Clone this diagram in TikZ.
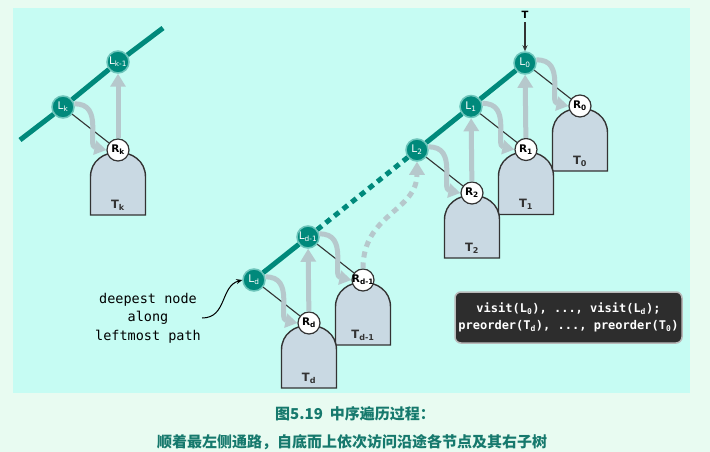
\documentclass[tikz,border=0pt]{standalone}
\usepackage{fontspec}
\setsansfont{DejaVu Sans}
\setmonofont{DejaVu Sans Mono}
\newfontfamily\cjk{Noto Sans CJK SC}
\usetikzlibrary{positioning,arrows.meta,calc}
\definecolor{pagebg}{HTML}{E8FBF1}
\definecolor{panelbg}{HTML}{C6FCF3}
\definecolor{pathteal}{HTML}{00897B}
\definecolor{rimteal}{HTML}{6CC4BA}
\definecolor{hintgray}{HTML}{B6C8CC}
\definecolor{treefill}{HTML}{C9D9E3}
\definecolor{inkdark}{HTML}{333333}
\definecolor{codebg}{HTML}{2D2D2D}
\definecolor{capteal}{HTML}{16796D}
\pgfdeclarelayer{back}
\pgfsetlayers{back,main}
\newcommand\vname[2]{\makebox[0pt]{#1\textsubscript{#2}}}

\tikzset{
  lnode/.style={circle, fill=pathteal, draw=rimteal, line width=1.5pt, minimum size=22pt,
    inner sep=0pt, text=white, font=\sffamily\fontsize{10.5}{10}\selectfont},
  rnode/.style={circle, fill=white, draw=inkdark, line width=1.2pt, minimum size=22pt,
    inner sep=0pt, font=\sffamily\bfseries\fontsize{10.5}{10}\selectfont},
  spine/.style={pathteal, line width=5pt},
  spinedots/.style={spine, dash pattern=on 6pt off 5pt},
  edge/.style={inkdark, line width=1.1pt},
  climb/.style={hintgray, line width=5pt, -{Triangle[length=13pt,width=15pt]}},
  climbdots/.style={climb, dash pattern=on 6pt off 5pt},
  visit/.style={hintgray, line width=5pt, -{Triangle[length=12pt,width=14pt]}},
  treebody/.style={fill=treefill, draw=inkdark, line width=1.4pt},
  subtree/.pic={
    \draw[treebody] (-27.5,65) -- (-27.5,27) .. controls (-27.5,-6) and (27.5,-6) .. (27.5,27)
      -- (27.5,65) -- cycle;
    \node[font=\sffamily\bfseries\fontsize{11.5}{11}\selectfont, text=inkdark] (-lbl) at (0,55) {#1};
  },
  codebox/.style={fill=codebg, draw=gray!55, line width=1.5pt, rounded corners=6pt,
    minimum width=227pt, minimum height=51pt, inner sep=2pt, text=white, align=center,
    font=\ttfamily\bfseries\fontsize{12}{16.5}\selectfont},
}

\begin{document}
\begin{tikzpicture}[x=1pt, y=-1pt]
\useasboundingbox (0,0) rectangle (710,452);

% backdrop and subtrees
\begin{pgfonlayer}{back}
\fill[pagebg] (0,0) rectangle (710,452);
\fill[panelbg] (13,8) rectangle (690,393);
\pic (Tk) at (118,150) {subtree={T\textsubscript{k}}};
\pic (T0) at (580,106) {subtree={T\textsubscript{0}}};
\pic (T1) at (526,149.5) {subtree={T\textsubscript{1}}};
\pic (T2) at (472,193) {subtree={T\textsubscript{2}}};
\pic (Tdm) at (363,280) {subtree={T\textsubscript{d-1}}};
\pic (Td) at (309,323) {subtree={T\textsubscript{d}}};
\end{pgfonlayer}

% leftmost path nodes
\node[lnode] (L0) at (525,63) {\vname{L}{0}};
\node[lnode] (L1) at (471,106.5) {\vname{L}{1}};
\node[lnode] (L2) at (417,150) {\vname{L}{2}};
\node[lnode] (Ldm) at (308,237) {\vname{L}{d-1}};
\node[lnode] (Ld) at (254,280) {\vname{L}{d}};
\node[lnode] (Lk) at (63,107) {\vname{L}{k}};
\node[lnode] (Lkm) at (118,62) {\vname{L}{k-1}};

% right children
\node[rnode, on grid, below right=43pt and 55pt of L0] (R0) {\vname{R}{0}};
\node[rnode, on grid, below right=43pt and 55pt of L1] (R1) {\vname{R}{1}};
\node[rnode, on grid, below right=43pt and 55pt of L2] (R2) {\vname{R}{2}};
\node[rnode, on grid, below right=43pt and 55pt of Ldm] (Rdm) {\vname{R}{d-1}};
\node[rnode, on grid, below right=43pt and 55pt of Ld] (Rd) {\vname{R}{d}};
\node[rnode, on grid, below right=43pt and 55pt of Lk] (Rk) {\vname{R}{k}};

\coordinate (kend1) at (20,140);
\coordinate (kend2) at (163,28);

% spine
\draw[spine] (L0) -- (L1) -- (L2);
\draw[spinedots] (L2) -- (Ldm);
\draw[spine] (Ldm) -- (Ld);
\draw[spine] (kend1) -- (Lk) -- (Lkm) -- (kend2);

% tree edges
\foreach \a/\b in {L0/R0, L1/R1, L2/R2, Ldm/Rdm, Ld/Rd, Lk/Rk}
  \draw[edge] (\a) -- (\b);

% visit order
\foreach \a/\b in {L0/R0, L1/R1, L2/R2, Ldm/Rdm, Ld/Rd, Lk/Rk}
  \draw[visit] (\a.15) .. controls ($(\a.15)+(30,-1)$) and ($(\b.west)+(-20,-4)$) .. (\b.west);
\foreach \a/\b in {R1/L0, R2/L1, Rd/Ldm, Rk/Lkm}
  \draw[climb] (\a) -- (\b);
\draw[climbdots] (Rdm.north) .. controls ($(Rdm.north)+(0,-55)$) and ($(L2.south)+(0,50)$) .. (L2.south);

% entry
\node[font=\sffamily\bfseries\fontsize{10}{10}\selectfont] (entry) at (525,15) {T};
\draw[inkdark, line width=1.2pt, -{Stealth[length=6pt,width=5pt]}] (entry) -- (L0);

% deepest node note
\node[font=\ttfamily\fontsize{13.5}{18.5}\selectfont, align=center, inner sep=1pt] (deep) at (148,318)
  {deepest node\\along\\leftmost path};
\draw[black, line width=1pt, -{Stealth[length=6pt,width=5pt]}] (deep.east)
  .. controls ($(deep.east)+(25,0)$) and ($(Ld.west)+(-22,6)$) .. (Ld.west);

% summary
\node[codebox] (code) at (568.5,317.5)
  {visit(L\textsubscript{0}), ..., visit(L\textsubscript{d});\\
   preorder(T\textsubscript{d}), ..., preorder(T\textsubscript{0})};

% caption
\node[font=\cjk\bfseries\fontsize{15}{15}\selectfont, text=capteal] (cap1) at (355,414)
  {图5.19\ \ 中序遍历过程：};
\node[font=\cjk\bfseries\fontsize{15}{15}\selectfont, text=capteal] (cap2) at (352,442)
  {顺着最左侧通路，自底而上依次访问沿途各节点及其右子树};
\end{tikzpicture}
\end{document}
